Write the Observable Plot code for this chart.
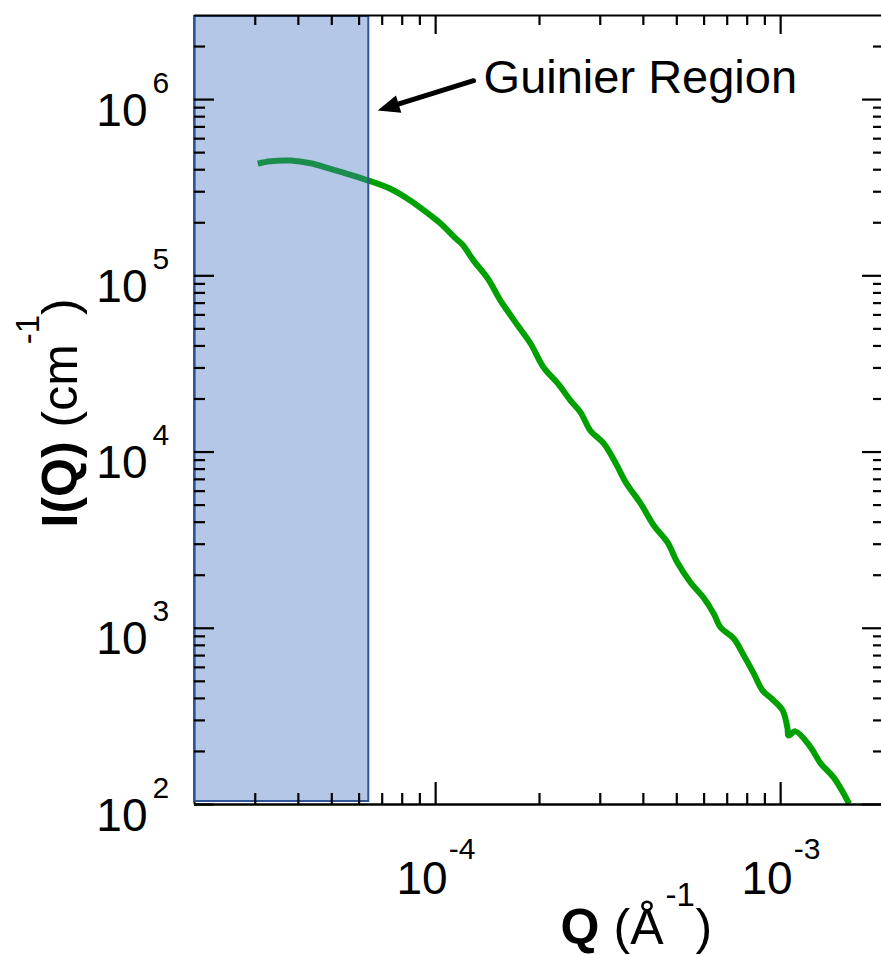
<!DOCTYPE html>
<html>
<head>
<meta charset="utf-8">
<script src="https://cdn.jsdelivr.net/npm/d3@7"></script>
<script src="https://cdn.jsdelivr.net/npm/@observablehq/plot@0.6"></script>
<style>
  html, body { margin: 0; padding: 0; background: #fff; overflow: hidden; }
</style>
</head>
<body>
<div id="chart"></div>
<script>
// Small-angle scattering curve, I(Q) against Q on log–log axes.
const q = [3.05e-5, 3.32e-5, 3.80e-5, 4.34e-5, 4.96e-5, 5.67e-5, 6.39e-5, 7.41e-5, 8.46e-5, 9.67e-5,
  1.034e-4, 1.143e-4, 1.197e-4, 1.288e-4, 1.416e-4, 1.542e-4, 1.730e-4, 1.884e-4, 2.056e-4, 2.26e-4,
  2.46e-4, 2.63e-4, 2.81e-4, 3.07e-4, 3.33e-4, 3.56e-4, 3.93e-4, 4.29e-4, 4.70e-4, 5.02e-4,
  5.48e-4, 5.98e-4, 6.40e-4, 6.70e-4, 7.31e-4, 7.82e-4, 8.36e-4, 8.87e-4, 9.55e-4, 1.014e-3,
  1.047e-3, 1.054e-3, 1.104e-3, 1.222e-3, 1.306e-3, 1.426e-3, 1.58e-3];
const intensity = [4.33e5, 4.47e5, 4.51e5, 4.35e5, 4.04e5, 3.74e5, 3.47e5, 3.11e5, 2.67e5, 2.20e5,
  1.98e5, 1.63e5, 1.50e5, 1.22e5, 9.65e4, 7.24e4, 5.22e4, 4.13e4, 3.02e4, 2.45e4,
  1.96e4, 1.68e4, 1.32e4, 1.12e4, 8.61e3, 6.71e3, 5.10e3, 3.83e3, 3.07e3, 2.36e3,
  1.82e3, 1.49e3, 1.21e3, 1.01e3, 875, 700, 553, 443, 389, 341,
  270, 246, 260, 211, 171, 142, 101];

// Axis domains and ticks
const xDomain = [2e-5, 2e-3];
const yDomain = [1e2, 3e6];
const xMajorTicks = [1e-4, 1e-3];
const yMajorTicks = [1e2, 1e3, 1e4, 1e5, 1e6];
const xTickLabels = ["-4", "-3"];
const yTickLabels = ["2", "3", "4", "5", "6"];

// Guinier region band and its callout
const guinierQ = [2e-5, 6.4e-5];
const calloutText = "Guinier Region";
const calloutAt = [1.377e-4, 1.096e6];
const arrowFrom = [1.288e-4, 1.28e6];
const arrowTo = [6.79e-5, 8.66e5];

// Minor log ticks (2..9 × each decade) strictly inside a domain
function minorTicks([lo, hi]) {
  const out = [];
  for (let e = Math.floor(Math.log10(lo)); e <= Math.ceil(Math.log10(hi)); e++) {
    for (let m = 2; m <= 9; m++) {
      const v = m * Math.pow(10, e);
      if (v > lo * 1.0001 && v < hi * 0.9999) out.push(v);
    }
  }
  return out;
}
const xMinorTicks = minorTicks(xDomain);
const yMinorTicks = minorTicks(yDomain);

const curve = q.map((d, i) => ({q: d, i: intensity[i]}));

const W = 881, H = 955;
const mL = 194, mR = 0, mT = 15, mB = 151;
const frameW = W - mL - mR;
const frameH = H - mT - mB;
const ink = "black";
const font = "'Liberation Sans', Arial, sans-serif";
const tickW = 2.2;

const chart = Plot.plot({
  width: W,
  height: H,
  marginLeft: mL, marginRight: mR, marginTop: mT, marginBottom: mB,
  x: {type: "log", domain: xDomain, range: [194, 884], axis: null},
  y: {type: "log", domain: yDomain, range: [804, 15], axis: null},
  style: {fontFamily: font, background: "white", color: ink},
  marks: [
    // data curve
    Plot.line(curve, {x: "q", y: "i", stroke: "#00a000", strokeWidth: 6,
      curve: "catmull-rom", strokeLinejoin: "round", strokeLinecap: "butt"}),

    // left axis line (mostly under the band outline)
    Plot.ruleX([xDomain[0]], {stroke: ink, strokeWidth: 2}),

    // translucent Guinier band
    Plot.rect([{x1: guinierQ[0], x2: guinierQ[1], y1: yDomain[0], y2: yDomain[1]}], {
      x1: "x1", x2: "x2", y1: "y1", y2: "y2",
      fill: "#4472C4", fillOpacity: 0.4, stroke: "#2F5597", strokeWidth: 2,
      insetTop: 1, insetBottom: 3
    }),

    // top and bottom frame lines
    Plot.ruleY([yDomain[1]], {stroke: ink, strokeWidth: 2}),
    Plot.ruleY([yDomain[0]], {stroke: ink, strokeWidth: 2.5}),

    // inward ticks: bottom
    Plot.ruleX(xMajorTicks, {stroke: ink, strokeWidth: tickW, insetTop: frameH - 22}),
    Plot.ruleX(xMinorTicks, {stroke: ink, strokeWidth: tickW, insetTop: frameH - 11}),
    // top
    Plot.ruleX(xMajorTicks, {stroke: ink, strokeWidth: tickW, insetBottom: frameH - 19}),
    Plot.ruleX(xMinorTicks, {stroke: ink, strokeWidth: tickW, insetBottom: frameH - 10}),
    // left
    Plot.ruleY(yMajorTicks, {stroke: ink, strokeWidth: tickW, insetRight: frameW - 20}),
    Plot.ruleY(yMinorTicks, {stroke: ink, strokeWidth: tickW, insetRight: frameW - 11}),
    // right (axis sits just past the page edge)
    Plot.ruleY(yMajorTicks, {stroke: ink, strokeWidth: tickW, insetLeft: frameW - 19}),
    Plot.ruleY(yMinorTicks, {stroke: ink, strokeWidth: tickW, insetLeft: frameW - 8}),

    // y tick labels: 10 with superscript exponent
    Plot.text(yMajorTicks, {y: d => d, frameAnchor: "left", text: () => "10",
      textAnchor: "end", lineAnchor: "bottom", dx: -47, dy: 26, fontSize: 46, fill: ink}),
    Plot.text(yMajorTicks, {y: d => d, frameAnchor: "left", text: (d, i) => yTickLabels[i],
      textAnchor: "start", lineAnchor: "bottom", dx: -42, dy: -7, fontSize: 30, fill: ink}),

    // x tick labels
    Plot.text(xMajorTicks, {x: d => d, frameAnchor: "bottom", text: () => "10",
      textAnchor: "end", lineAnchor: "bottom", dx: 12, dy: 89, fontSize: 46, fill: ink}),
    Plot.text(xMajorTicks, {x: d => d, frameAnchor: "bottom", text: (d, i) => xTickLabels[i],
      textAnchor: "start", lineAnchor: "bottom", dx: 13, dy: 54, fontSize: 30, fill: ink}),

    // x axis title: Q (Å^-1)
    Plot.text(["Q"], {frameAnchor: "bottom-left", text: d => d, textAnchor: "start", lineAnchor: "bottom",
      dx: 366, dy: 139, fontSize: 50, fontWeight: "bold", fill: ink}),
    Plot.text(["(Å"], {frameAnchor: "bottom-left", text: d => d, textAnchor: "start", lineAnchor: "bottom",
      dx: 419, dy: 139, fontSize: 50, fill: ink}),
    Plot.text(["-1"], {frameAnchor: "bottom-left", text: d => d, textAnchor: "start", lineAnchor: "bottom",
      dx: 471, dy: 101, fontSize: 33, fill: ink}),
    Plot.text([")"], {frameAnchor: "bottom-left", text: d => d, textAnchor: "start", lineAnchor: "bottom",
      dx: 501, dy: 139, fontSize: 50, fill: ink}),

    // y axis title: I(Q) (cm^-1), reading upward
    Plot.text(["I(Q)"], {frameAnchor: "left", text: d => d, rotate: -90, textAnchor: "start", lineAnchor: "bottom",
      dx: -118, dy: 117.5, fontSize: 50, fontWeight: "bold", fill: ink}),
    Plot.text(["(cm"], {frameAnchor: "left", text: d => d, rotate: -90, textAnchor: "start", lineAnchor: "bottom",
      dx: -118, dy: 17.5, fontSize: 50, fill: ink}),
    Plot.text(["-1"], {frameAnchor: "left", text: d => d, rotate: -90, textAnchor: "start", lineAnchor: "bottom",
      dx: -156, dy: -65.8, fontSize: 33, fill: ink}),
    Plot.text([")"], {frameAnchor: "left", text: d => d, rotate: -90, textAnchor: "start", lineAnchor: "bottom",
      dx: -118, dy: -95.1, fontSize: 50, fill: ink}),

    // callout
    Plot.text([calloutText], {x: () => calloutAt[0], y: () => calloutAt[1], text: d => d,
      textAnchor: "start", lineAnchor: "bottom", fontSize: 47, fill: ink}),
    Plot.arrow([{x1: arrowFrom[0], y1: arrowFrom[1], x2: arrowTo[0], y2: arrowTo[1]}], {
      x1: "x1", y1: "y1", x2: "x2", y2: "y2", stroke: ink, strokeWidth: 5,
      headLength: 0, insetEnd: 14
    }),
    Plot.vector([arrowTo], {x: d => d[0], y: d => d[1], anchor: "end", shape: "spike",
      length: 22, r: 9, rotate: 252.7, fill: ink, stroke: "none"})
  ]
});

document.getElementById("chart").appendChild(chart);
</script>
</body>
</html>
